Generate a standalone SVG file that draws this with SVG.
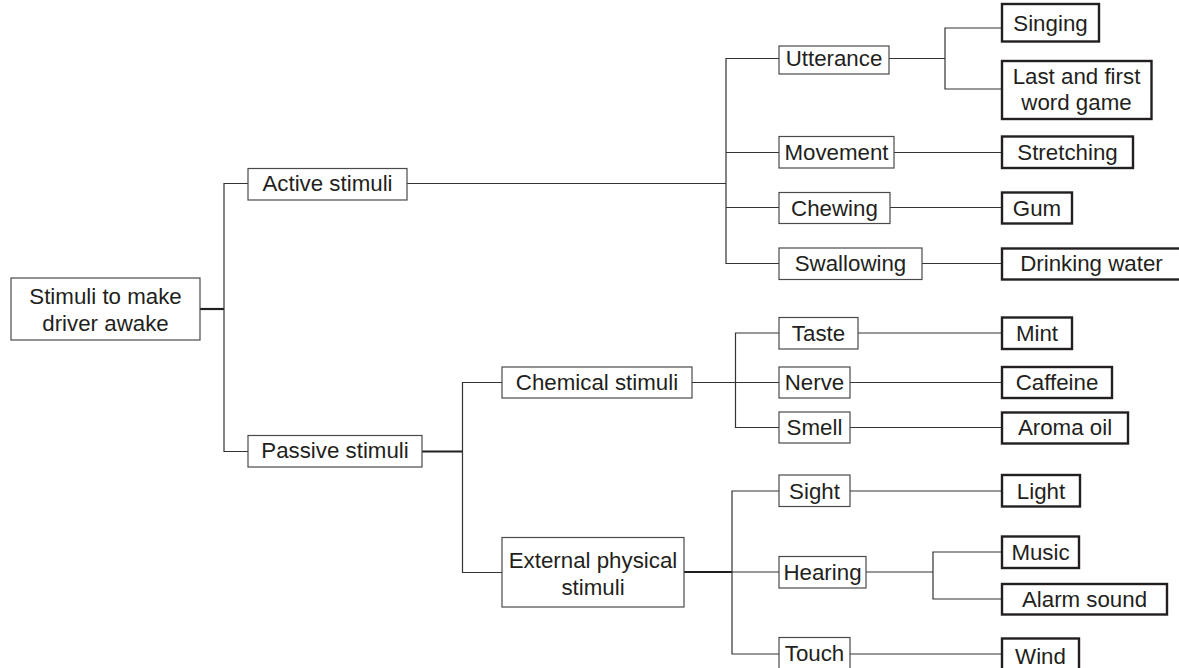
<svg xmlns="http://www.w3.org/2000/svg" width="1179" height="668" viewBox="0 0 1179 668">
<style>
text{font-family:"Liberation Sans",Arial,sans-serif;font-size:22.3px;fill:#231f20;text-anchor:middle}
.n{fill:#fff;stroke:#4a4a4a;stroke-width:1.2}
.l{fill:#fff;stroke:#231f20;stroke-width:2.4}
#connectors path{fill:none;stroke:#333;stroke-width:1.2}
#connectors path.t{stroke-width:2.2;stroke:#231f20}
</style>
<rect width="1179" height="668" fill="#fff"/>
<g id="connectors">
<path class="t" d="M200,309H224"/>
<path d="M248,183.5H224V451.5H248"/>
<path d="M407,183.5H726"/>
<path d="M779,58.5H726V263.5H779M726,152.5H779M726,207.5H779"/>
<path d="M889,58.5H945"/>
<path d="M1002,28H945V89H1002"/>
<path d="M894,152.5H1002"/>
<path d="M890,207.5H1002"/>
<path d="M922,263.5H1002"/>
<path class="t" d="M422,451.5H462"/>
<path d="M502,382.5H462.5V572.5H502"/>
<path d="M692,382.5H779"/>
<path d="M779,333H735.5V427.5H779"/>
<path d="M858,333H1002"/>
<path d="M850,382.5H1002"/>
<path d="M850,427.5H1002"/>
<path class="t" d="M684,572H732"/>
<path d="M779,491H732V654H779M732,572H779"/>
<path d="M850,491H1002"/>
<path d="M866,572H933"/>
<path d="M1002,552H933V599H1002"/>
<path d="M850,654H1002"/>
</g>
<g id="root"><rect class="n" x="11" y="278" width="189" height="62"/><text x="105.5" y="304">Stimuli to make</text><text x="105.5" y="331">driver awake</text></g>
<g id="active"><rect class="n" x="248" y="168.5" width="159" height="31.5"/><text x="327.5" y="191">Active stimuli</text></g>
<g id="passive"><rect class="n" x="248" y="435.5" width="174" height="31.5"/><text x="335" y="458">Passive stimuli</text></g>
<g id="utterance"><rect class="n" x="779" y="46" width="110" height="28"/><text x="834" y="66">Utterance</text></g>
<g id="movement"><rect class="n" x="779" y="136.5" width="115" height="31.5"/><text x="836.5" y="160">Movement</text></g>
<g id="chewing"><rect class="n" x="779" y="192.5" width="111" height="31"/><text x="834.5" y="215.5">Chewing</text></g>
<g id="swallowing"><rect class="n" x="779" y="248" width="143" height="31.5"/><text x="850.5" y="271">Swallowing</text></g>
<g id="singing"><rect class="l" x="1002" y="4" width="97" height="37.5"/><text x="1050.5" y="30.5">Singing</text></g>
<g id="lastfirst"><rect class="l" x="1002" y="61" width="149.5" height="58"/><text x="1076.5" y="84">Last and first</text><text x="1076.5" y="110">word game</text></g>
<g id="stretching"><rect class="l" x="1002" y="136.5" width="131" height="31.5"/><text x="1067.5" y="160">Stretching</text></g>
<g id="gum"><rect class="l" x="1002" y="192.5" width="70" height="31"/><text x="1037" y="215.5">Gum</text></g>
<g id="drinking"><rect class="l" x="1002" y="248.5" width="180" height="31"/><text x="1091.5" y="271">Drinking water</text></g>
<g id="chemical"><rect class="n" x="502" y="367" width="190" height="31"/><text x="597" y="390">Chemical stimuli</text></g>
<g id="external"><rect class="n" x="502" y="537.5" width="182" height="69.5"/><text x="593" y="568">External physical</text><text x="593" y="594.5">stimuli</text></g>
<g id="taste"><rect class="n" x="779" y="317.5" width="79" height="31.5"/><text x="818.5" y="341">Taste</text></g>
<g id="nerve"><rect class="n" x="779" y="367" width="71" height="31"/><text x="814.5" y="390">Nerve</text></g>
<g id="smell"><rect class="n" x="779" y="412" width="71" height="31"/><text x="814.5" y="435">Smell</text></g>
<g id="mint"><rect class="l" x="1002" y="317.5" width="70" height="31.5"/><text x="1037" y="341">Mint</text></g>
<g id="caffeine"><rect class="l" x="1002" y="367" width="110" height="31"/><text x="1057" y="390">Caffeine</text></g>
<g id="aroma"><rect class="l" x="1002" y="412.5" width="126" height="31"/><text x="1065" y="435">Aroma oil</text></g>
<g id="sight"><rect class="n" x="779" y="475" width="71" height="31.5"/><text x="814.5" y="498.5">Sight</text></g>
<g id="hearing"><rect class="n" x="779" y="556.5" width="87" height="31.5"/><text x="822.5" y="579.5">Hearing</text></g>
<g id="touch"><rect class="n" x="779" y="637.5" width="71" height="35"/><text x="814.5" y="661">Touch</text></g>
<g id="light"><rect class="l" x="1002" y="475" width="78" height="31.5"/><text x="1041" y="498.5">Light</text></g>
<g id="music"><rect class="l" x="1002" y="536.5" width="77" height="31.5"/><text x="1040.5" y="560">Music</text></g>
<g id="alarm"><rect class="l" x="1002" y="584" width="165" height="30.5"/><text x="1084.5" y="607">Alarm sound</text></g>
<g id="wind"><rect class="l" x="1002" y="638.5" width="77" height="34"/><text x="1040.5" y="663.5">Wind</text></g>
</svg>
